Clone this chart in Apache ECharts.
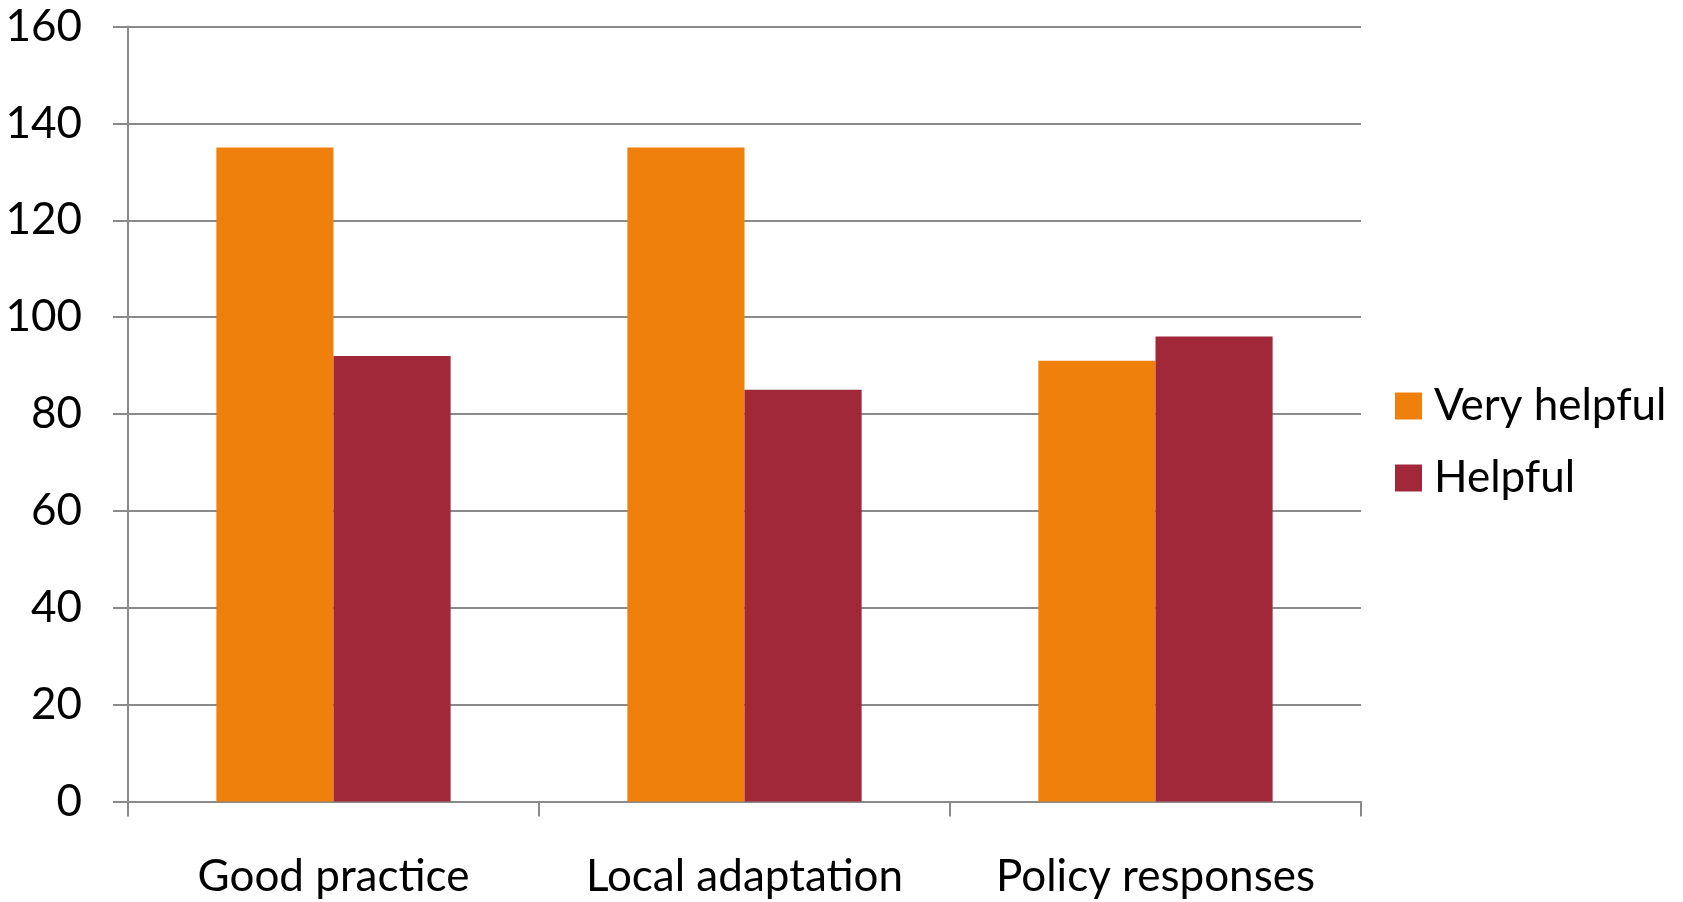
<!DOCTYPE html>
<html>
<head>
<meta charset="utf-8">
<script src="https://cdn.jsdelivr.net/npm/echarts@6/dist/echarts.min.js"></script>
<style>
  html, body { margin: 0; padding: 0; background: #fff; }
  #chart { width: 1683px; height: 902px; }
</style>
</head>
<body>
<div id="chart"></div>
<script>
// 数据
const categories = ['Good practice', 'Local adaptation', 'Policy responses'];
const veryHelpful = [135, 135, 91];
const helpful = [92, 85, 96];
const yTicks = { min: 0, max: 160, interval: 20 };

const font = 'Lato';
const gray = '#8a8a8a';

const options = {
    animation: false,
    textStyle: { fontFamily: font },
    grid: {
        left: 128,
        right: 322,
        top: 26.5,
        bottom: 100.5
    },
    legend: {
        orient: 'vertical',
        left: 1395,
        top: 382,
        padding: 0,
        itemWidth: 27,
        itemHeight: 27,
        itemGap: 24,
        icon: 'rect',
        textStyle: {
            fontFamily: font,
            fontSize: 44,
            color: '#000',
            lineHeight: 48,
            padding: [0, 0, 0, 7]
        },
        data: ['Very helpful', 'Helpful']
    },
    xAxis: {
        type: 'category',
        data: categories,
        axisLine: { lineStyle: { color: gray, width: 2 } },
        axisTick: { show: true, interval: 0, length: 15, lineStyle: { color: gray, width: 2 } },
        axisLabel: { interval: 0, hideOverlap: false, fontSize: 44, color: '#000', margin: 53, fontFamily: font },
        splitLine: { show: false }
    },
    yAxis: {
        type: 'value',
        min: yTicks.min,
        max: yTicks.max,
        interval: yTicks.interval,
        axisLine: { show: true, lineStyle: { color: gray, width: 2 } },
        axisTick: { show: true, length: 15, lineStyle: { color: gray, width: 2 } },
        axisLabel: { fontSize: 44, color: '#000', margin: 46, fontFamily: font },
        splitLine: { show: true, lineStyle: { color: gray, width: 2 } }
    },
    series: [
        {
            name: 'Very helpful',
            type: 'bar',
            data: veryHelpful,
            barWidth: '28.5%',
            barGap: '0%',
            itemStyle: { color: '#EF800B' }
        },
        {
            name: 'Helpful',
            type: 'bar',
            data: helpful,
            barWidth: '28.5%',
            barGap: '0%',
            itemStyle: { color: '#A12838' }
        }
    ]
};

const E = echarts.init(document.getElementById('chart'));
window.onresize = function () {
    E.resize();
};
E.setOption(options);
</script>
</body>
</html>
